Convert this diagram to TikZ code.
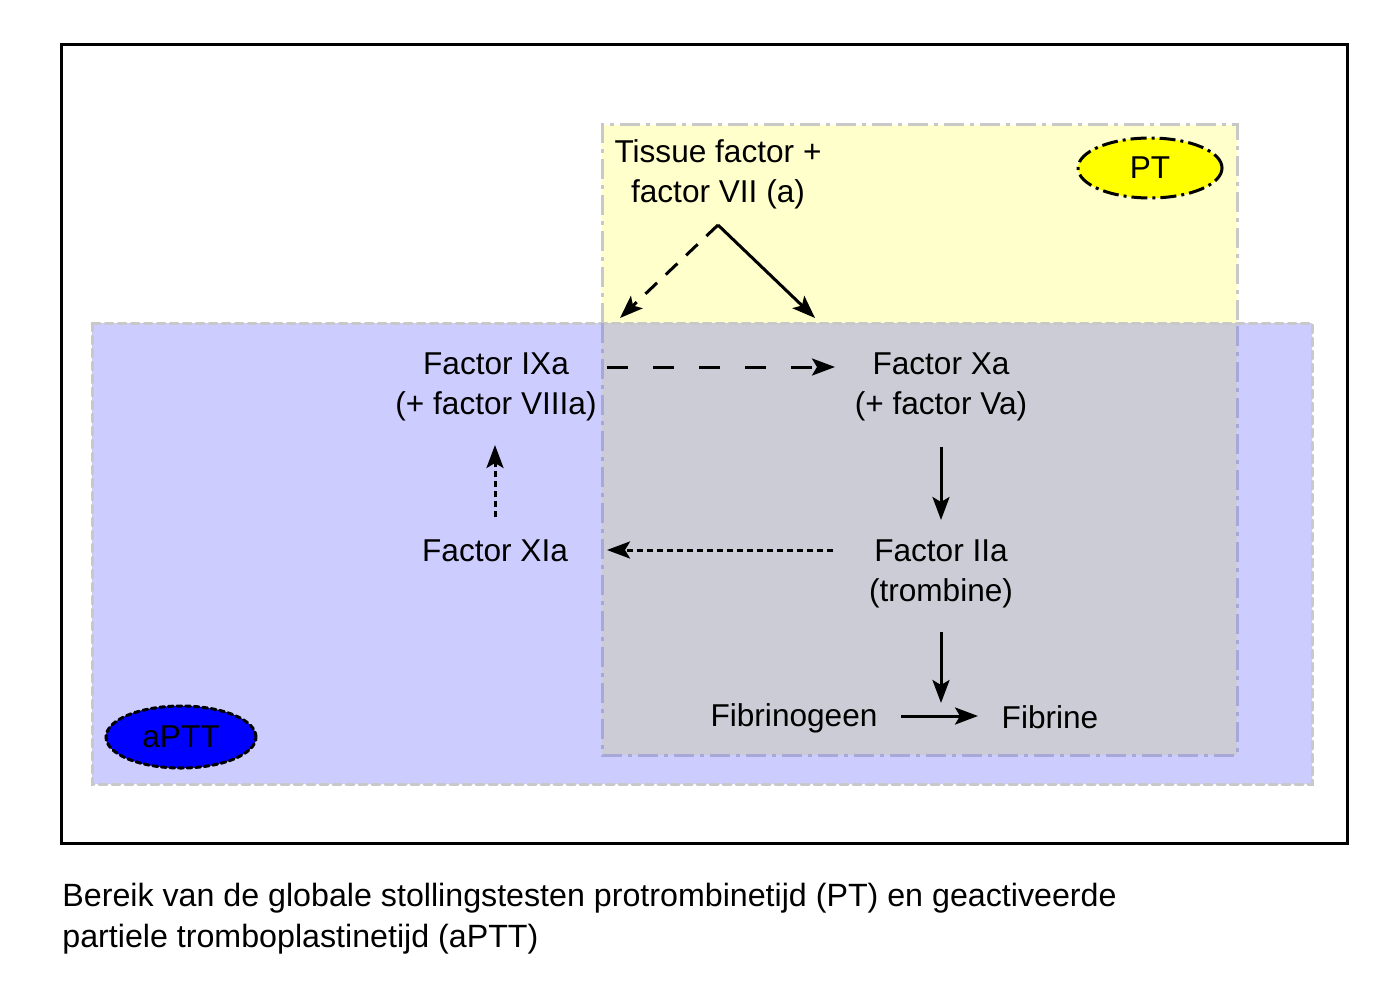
\documentclass[tikz,border=0pt]{standalone}
\usepackage{fontspec}
\setmainfont{Liberation Sans}
\usetikzlibrary{arrows.meta,shapes.geometric}
\definecolor{ptfill}{HTML}{FFFFCC}
\definecolor{apttfill}{HTML}{CCCCFF}
\definecolor{overlapfill}{HTML}{CCCCD6}
\definecolor{bordergray}{HTML}{C8C8C8}
\definecolor{borderblue}{HTML}{A8A8D8}
\definecolor{ptyellow}{HTML}{FFFF00}
\definecolor{apttblue}{HTML}{0000FF}
\tikzset{
  lbl/.style={inner sep=0pt, align=center, font=\fontsize{15.8}{20}\selectfont},
  conn/.style={line width=1.5pt, -{Stealth[length=11.5pt,width=8.5pt,inset=2.5pt]}},
  longdash/.style={dash pattern=on 10.5pt off 12.5pt},
  middash/.style={dash pattern=on 8pt off 6pt},
  shortdash/.style={dash pattern=on 3pt off 2pt},
  boxdash/.style={line width=1.5pt, dash pattern=on 4pt off 2.5pt, line cap=round},
  boxdashdot/.style={line width=1.5pt, dash pattern=on 10pt off 3pt on 2pt off 3pt}
}
\begin{document}
\begin{tikzpicture}[x=0.5pt,y=-0.5pt]
\useasboundingbox (0,0) rectangle (1400,994);
% region fills
\fill[ptfill] (602,125) rectangle (1237,755);
\fill[apttfill] (92,323) rectangle (1312,784);
\fill[overlapfill] (602,323) rectangle (1237,755);
% region borders
\draw[boxdash, bordergray] (92,323) rectangle (1312,784);
\draw[boxdashdot, bordergray] (602,323) -- (602,125) -- (1237,125) -- (1237,323);
\draw[boxdashdot, borderblue] (602,323) -- (602,755) -- (1237,755) -- (1237,323);
% outer frame
\draw[line width=1.5pt] (61,45) rectangle (1347,843);
% legend ellipses
\node[ellipse, draw, fill=ptyellow, line width=1.5pt, dash pattern=on 8pt off 2.5pt on 1.5pt off 2.5pt,
      minimum width=72pt, minimum height=30pt, inner sep=0pt, font=\fontsize{15.8}{20}\selectfont] (pt) at (1150,168) {PT};
\node[ellipse, draw, fill=apttblue, line width=1.5pt, dash pattern=on 2.5pt off 1.8pt, line cap=round,
      minimum width=75pt, minimum height=31pt, inner sep=0pt, font=\fontsize{15.8}{20}\selectfont] (aptt) at (181,737) {aPTT};
% nodes
\node[lbl] (tf) at (718,174) {Tissue factor +\\factor VII (a)};
\node[lbl] (ixa) at (496,387) {Factor IXa\\(+ factor VIIIa)};
\node[lbl] (xa) at (941,387) {Factor Xa\\(+ factor Va)};
\node[lbl] (xia) at (495,551) {Factor XIa};
\node[lbl] (iia) at (941,574) {Factor IIa\\(trombine)};
\node[lbl] (fgn) at (794,718) {Fibrinogeen};
\node[lbl] (fbr) at (1050,717) {Fibrine};
\node[lbl, anchor=north west, align=left, font=\fontsize{16.1}{20.5}\selectfont] (cap) at (62,883)
  {Bereik van de globale stollingstesten protrombinetijd (PT) en geactiveerde\\partiele tromboplastinetijd (aPTT)};
% connector end points
\coordinate (apex) at (718,225);
\coordinate (tfL) at (620,318);
\coordinate (tfR) at (815,318);
\coordinate (ixaOut) at (607,367);
\coordinate (xaIn) at (835,367);
\coordinate (xaOut) at (941,447);
\coordinate (iiaIn) at (941,520);
\coordinate (iiaOut) at (833,550);
\coordinate (xiaIn) at (607,550);
\coordinate (xiaOut) at (495,517);
\coordinate (ixaIn) at (495,445);
\coordinate (iiaDown) at (941,632);
\coordinate (fibMid) at (941,703);
\coordinate (fgnOut) at (901,716);
\coordinate (fbrIn) at (978,716);
% connectors
\draw[conn, middash] (apex) -- (tfL);
\draw[conn] (apex) -- (tfR);
\draw[conn, longdash] (ixaOut) -- (xaIn);
\draw[conn] (xaOut) -- (iiaIn);
\draw[conn, shortdash] (iiaOut) -- (xiaIn);
\draw[conn, shortdash] (xiaOut) -- (ixaIn);
\draw[conn] (iiaDown) -- (fibMid);
\draw[conn] (fgnOut) -- (fbrIn);
\end{tikzpicture}
\end{document}
